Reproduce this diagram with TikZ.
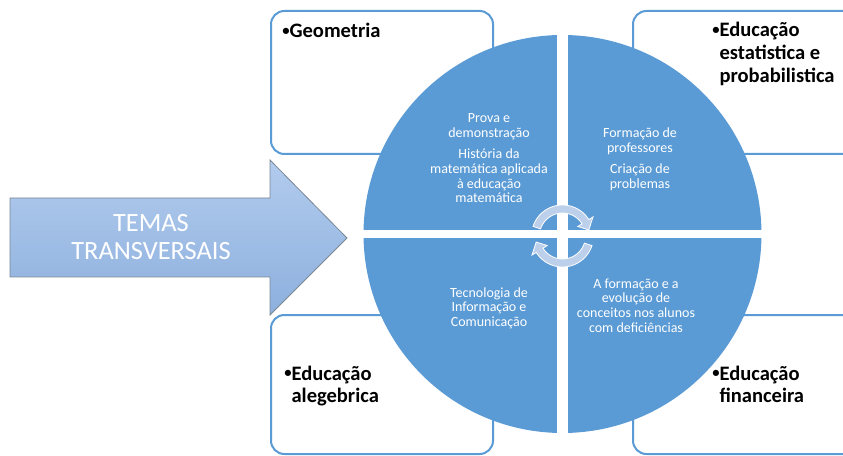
\documentclass[tikz,border=0pt]{standalone}
\usepackage{fontspec}
\setmainfont{Carlito}
\definecolor{qblue}{HTML}{5B9BD5}
\definecolor{boxblue}{HTML}{5B9BD5}
\definecolor{arrtop}{HTML}{B2CBED}
\definecolor{arrbot}{HTML}{8DB0DE}
\definecolor{arredge}{HTML}{7A8795}
\definecolor{cycfill}{HTML}{BCD0EC}
\newcommand{\mybul}{\raisebox{1.6pt}{\fontsize{11}{11}\selectfont •}\hspace{1pt}}
\begin{document}
\begin{tikzpicture}[x=0.75pt,y=-0.75pt,
  topicbox/.style={draw=boxblue, line width=1.5pt, rounded corners=10pt, fill=white},
  topictext/.style={anchor=base west, inner sep=0pt, font=\fontsize{15.4}{16.9}\selectfont\bfseries, text=black},
  quadtext/.style={anchor=base, inner sep=0pt, font=\fontsize{10.5}{11}\selectfont, text=white},
  bigtext/.style={anchor=base, inner sep=0pt, font=\fontsize{19.8}{21}\selectfont, text=white},
  cycarrow/.style={fill=cycfill, draw=white, line width=0.6pt}
]
\useasboundingbox (0,0) rectangle (843,456);
\clip (0,0) rectangle (843,456);

% topic boxes
\draw[topicbox] (271,11) rectangle (493,154);
\draw[topicbox] (633,11) rectangle (860,154);
\draw[topicbox] (271,315) rectangle (493,454);
\draw[topicbox] (633,315) rectangle (860,454);

% central circle split in quadrants
\fill[qblue] (562.5,234) circle[radius=199];
\fill[white] (557,30) rectangle (568,440);
\fill[white] (358,230) rectangle (770,238);

% circular arrows
\path[cycarrow]
  plot[domain=198:328, samples=30] ({562.5+31*cos(\x)},{236+31*sin(\x)})
  -- ({562.5+36*cos(328)},{236+36*sin(328)})
  -- ({562.5+27*cos(347)},{236+27*sin(347)})
  -- ({562.5+18*cos(328)},{236+18*sin(328)})
  -- plot[domain=328:198, samples=30] ({562.5+23*cos(\x)},{236+23*sin(\x)})
  -- cycle;
\path[cycarrow]
  plot[domain=18:148, samples=30] ({562.5+31*cos(\x)},{236+31*sin(\x)})
  -- ({562.5+36*cos(148)},{236+36*sin(148)})
  -- ({562.5+27*cos(167)},{236+27*sin(167)})
  -- ({562.5+18*cos(148)},{236+18*sin(148)})
  -- plot[domain=148:18, samples=30] ({562.5+23*cos(\x)},{236+23*sin(\x)})
  -- cycle;

% block arrow
\path[draw=arredge, line width=0.6pt, top color=arrtop, bottom color=arrbot]
  (10,198) -- (270,198) -- (270,160) -- (347,238) -- (270,315) -- (270,277) -- (10,277) -- cycle;
\node[bigtext] (temas) at (151,232) {\begin{tabular}[t]{@{}c@{}}TEMAS\\TRANSVERSAIS\end{tabular}};

% box texts
\node[topictext] (geo) at (282,38) {\begin{tabular}[t]{@{}l@{}l@{}}\mybul&Geometria\end{tabular}};
\node[topictext] (est) at (712,37) {\begin{tabular}[t]{@{}l@{}l@{}}\mybul&Educação\\&estatistica e\\&probabilistica\end{tabular}};
\node[topictext] (alg) at (284,380) {\begin{tabular}[t]{@{}l@{}l@{}}\mybul&Educação\\&alegebrica\end{tabular}};
\node[topictext] (fin) at (712,380) {\begin{tabular}[t]{@{}l@{}l@{}}\mybul&Educação\\&financeira\end{tabular}};

% quadrant texts
\node[quadtext] (q1) at (489,123) {\begin{tabular}[t]{@{}c@{}}Prova e\\demonstração\\[5pt]História da\\matemática aplicada\\à educação\\matemática\end{tabular}};
\node[quadtext] (q2) at (640,138) {\begin{tabular}[t]{@{}c@{}}Formação de\\professores\\[5pt]Criação de\\problemas\end{tabular}};
\node[quadtext] (q3) at (489,297) {\begin{tabular}[t]{@{}c@{}}Tecnologia de\\Informação e\\Comunicação\end{tabular}};
\node[quadtext] (q4) at (636,288) {\begin{tabular}[t]{@{}c@{}}A formação e a\\evolução de\\conceitos nos alunos\\com deficiências\end{tabular}};
\end{tikzpicture}
\end{document}
